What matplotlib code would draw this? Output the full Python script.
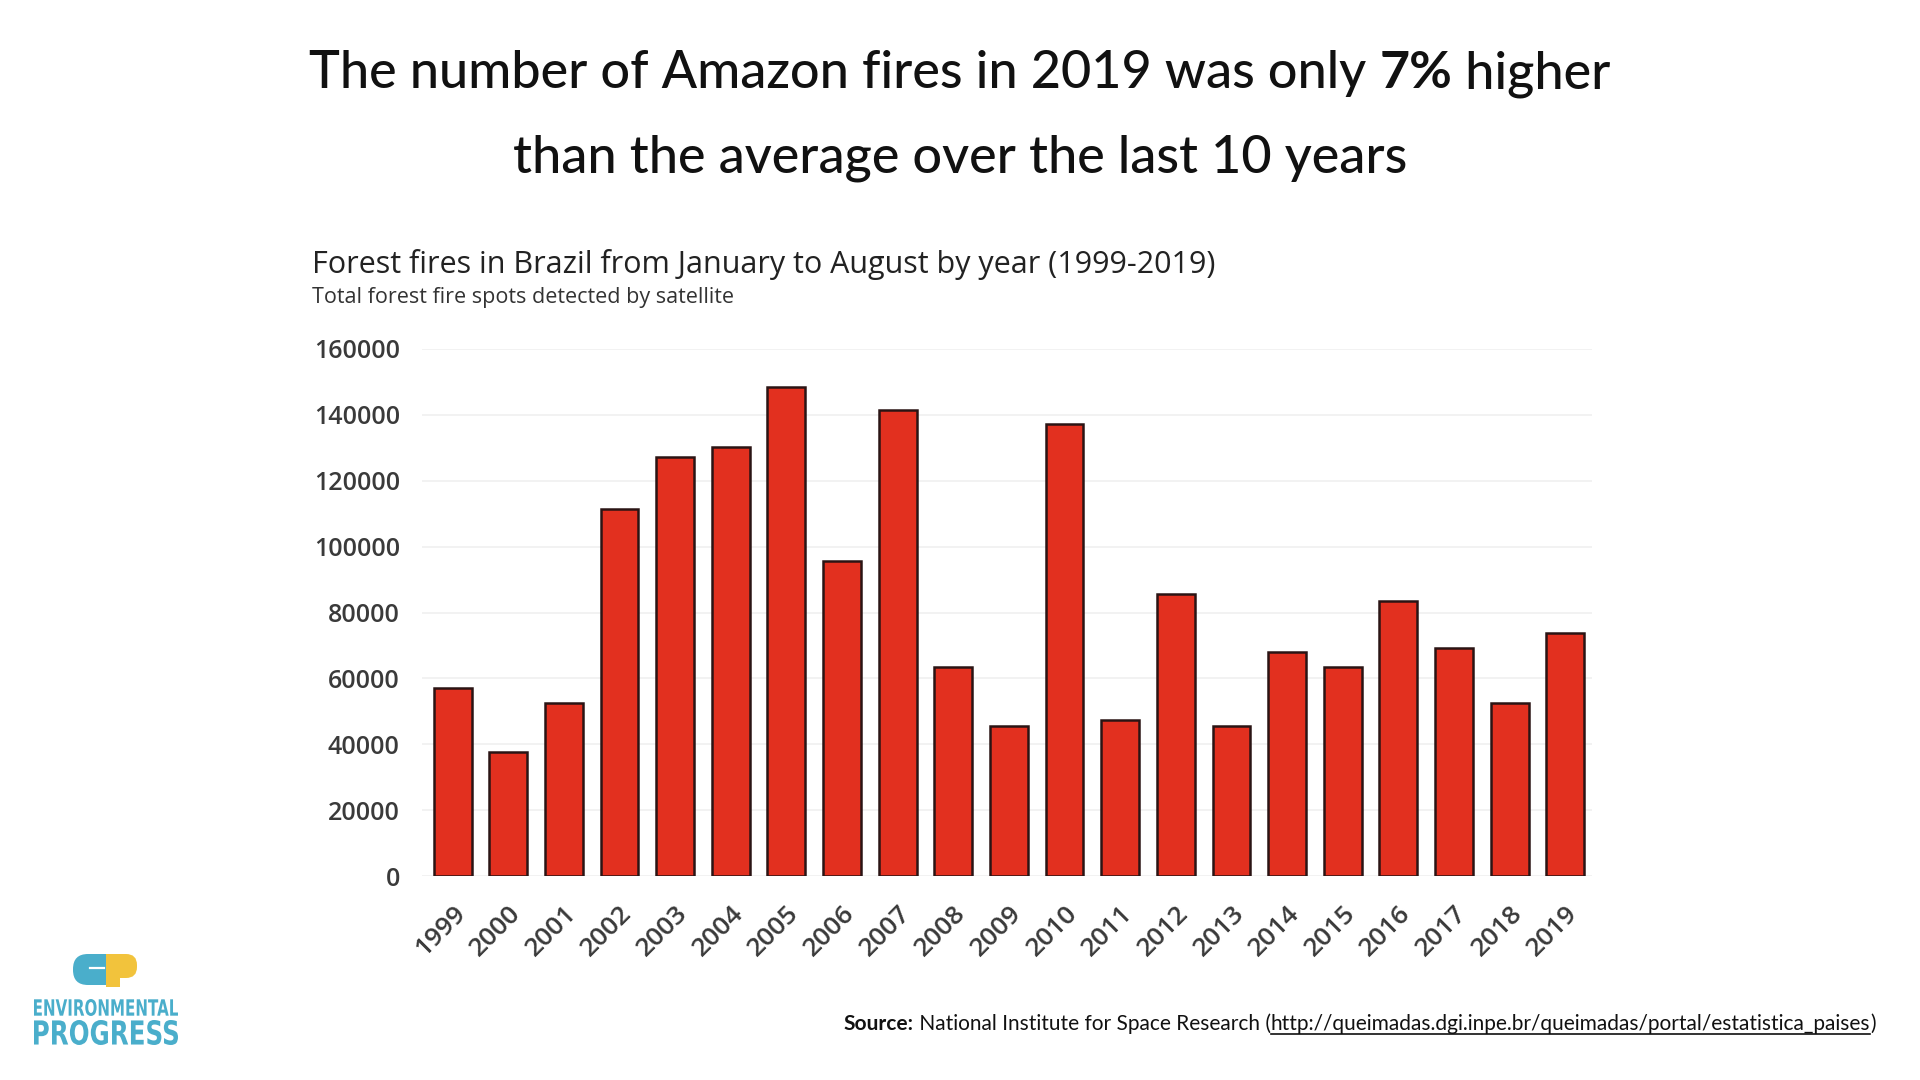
import matplotlib.pyplot as plt
from matplotlib.patches import FancyBboxPatch, PathPatch, Rectangle
from matplotlib.textpath import TextPath
from matplotlib.font_manager import FontProperties
from matplotlib.transforms import Affine2D

# Forest fire spots, Jan-Aug
years = [str(y) for y in range(1999, 2020)]
fires = [57000, 37600, 52500, 111300, 127300, 130200, 148500, 95600, 141400, 63600,
         45400, 137300, 47300, 85600, 45400, 68100, 63600, 83400, 69200, 52500, 73700]
y_ticks = [0, 20000, 40000, 60000, 80000, 100000, 120000, 140000, 160000]

TITLE_FONT = ["Lato", "DejaVu Sans"]
CHART_FONT = ["Open Sans", "DejaVu Sans"]
BAR_RED = "#e2301f"
TEAL = "#4aaecb"
GOLD = "#f2c33c"

fig = plt.figure(figsize=(19.2, 10.8), dpi=100)
fig.patch.set_facecolor("white")
renderer = fig.canvas.get_renderer()
# pixel coords (origin top-left) -> figure
px = Affine2D().scale(1 / 1920, -1 / 1080).translate(0, 1) + fig.transFigure


def text_width(s, **kw):
    t = fig.text(0, 0, s, **kw)
    w = t.get_window_extent(renderer=renderer).width
    t.remove()
    return w


def place_pieces(pieces, x_px, y_px, align="left"):
    # pieces: (text, underline, text kwargs)
    widths = [text_width(s, **kw) for s, _, kw in pieces]
    total = sum(widths)
    if align == "center":
        x = x_px - total / 2
    elif align == "right":
        x = x_px - total
    else:
        x = x_px
    for (s, under, kw), w in zip(pieces, widths):
        fig.text(x / 1920, 1 - y_px / 1080, s, ha="left", va="baseline", **kw)
        if under:
            fig.add_artist(plt.Line2D([x / 1920, (x + w) / 1920], [1 - (y_px + 4) / 1080] * 2,
                                      color="#111111", lw=1.2))
        x += w


def boxed_text(s, x0, y0, x1, y1, color, family="DejaVu Sans"):
    # squeeze a bold text outline into a pixel box (condensed look)
    path = TextPath((0, 0), s, size=100, prop=FontProperties(family=family, weight="bold"))
    ext = path.get_extents()
    tr = (Affine2D().translate(-ext.x0, -ext.y1)
          .scale((x1 - x0) / ext.width, -(y1 - y0) / ext.height)
          .translate(x0, y0) + px)
    fig.add_artist(PathPatch(path, transform=tr, facecolor=color, edgecolor="none"))


# headline
big = dict(fontsize=37.5, family=TITLE_FONT, color="#111111")
place_pieces([("The number of Amazon fires in 2019 was only ", False, dict(big, fontweight="medium")),
              ("7%", False, dict(big, fontweight="bold")),
              (" higher", False, dict(big, fontweight="medium"))],
             960, 88, align="center")
place_pieces([("than the average over the last 10 years", False, dict(big, fontweight="medium"))],
             960, 172, align="center")

# chart title and subtitle
fig.text(312 / 1920, 1 - 273 / 1080, "Forest fires in Brazil from January to August by year (1999-2019)",
         fontsize=22, family=CHART_FONT, color="#222222", va="baseline")
fig.text(312 / 1920, 1 - 303 / 1080, "Total forest fire spots detected by satellite",
         fontsize=15.5, family=CHART_FONT, color="#333333", va="baseline")

# bar chart
ax = fig.add_axes([422 / 1920, (1080 - 876) / 1080, (1592 - 422) / 1920, (876 - 349) / 1080])
x = list(range(len(years)))
ax.bar(x, fires, width=0.68, color=BAR_RED, edgecolor="#2a1414", linewidth=1.8, zorder=3)
ax.set_ylim(0, 160000)
ax.set_xlim(-0.55, 20.48)
ax.set_yticks(y_ticks)
ax.set_yticklabels([str(v) for v in y_ticks])
ax.set_xticks(x)
ax.set_xticklabels(years, rotation=45, ha="right", rotation_mode="anchor")
ax.grid(axis="y", color="#f0f0f0", linewidth=1.2, zorder=0)
for side in ["top", "right", "left", "bottom"]:
    ax.spines[side].set_visible(False)
ax.tick_params(axis="both", length=0, colors="#3a3a3a")
ax.tick_params(axis="y", pad=16, labelsize=18)
ax.tick_params(axis="x", pad=18, labelsize=19)
for lab in ax.get_xticklabels() + ax.get_yticklabels():
    lab.set_fontfamily(CHART_FONT)
    lab.set_fontweight("semibold")

# source line
small = dict(fontsize=15, family=TITLE_FONT, color="#111111")
place_pieces([("Source:", False, dict(small, fontweight="bold")),
              (" National Institute for Space Research (", False, small),
              ("http://queimadas.dgi.inpe.br/queimadas/portal/estatistica_paises", True, small),
              (")", False, small)],
             1876, 1030, align="right")

# Environmental Progress logo
fig.add_artist(FancyBboxPatch((73, 954), 36, 31, boxstyle="round,pad=0,rounding_size=15",
                              transform=px, facecolor=TEAL, edgecolor="none"))
fig.add_artist(Rectangle((94, 954), 15, 31, transform=px, facecolor=TEAL, edgecolor="none"))
fig.add_artist(FancyBboxPatch((106, 954), 31, 24, boxstyle="round,pad=0,rounding_size=11",
                              transform=px, facecolor=GOLD, edgecolor="none"))
fig.add_artist(Rectangle((106, 954), 14, 33, transform=px, facecolor=GOLD, edgecolor="none"))
fig.add_artist(plt.Line2D([0.047, 0.054], [1 - 968 / 1080] * 2, color="white", lw=1.6))
boxed_text("ENVIRONMENTAL", 34, 999, 178, 1016, TEAL)
boxed_text("PROGRESS", 34, 1020, 178, 1045, TEAL)

fig.savefig("out.png", dpi=100, facecolor="white")
